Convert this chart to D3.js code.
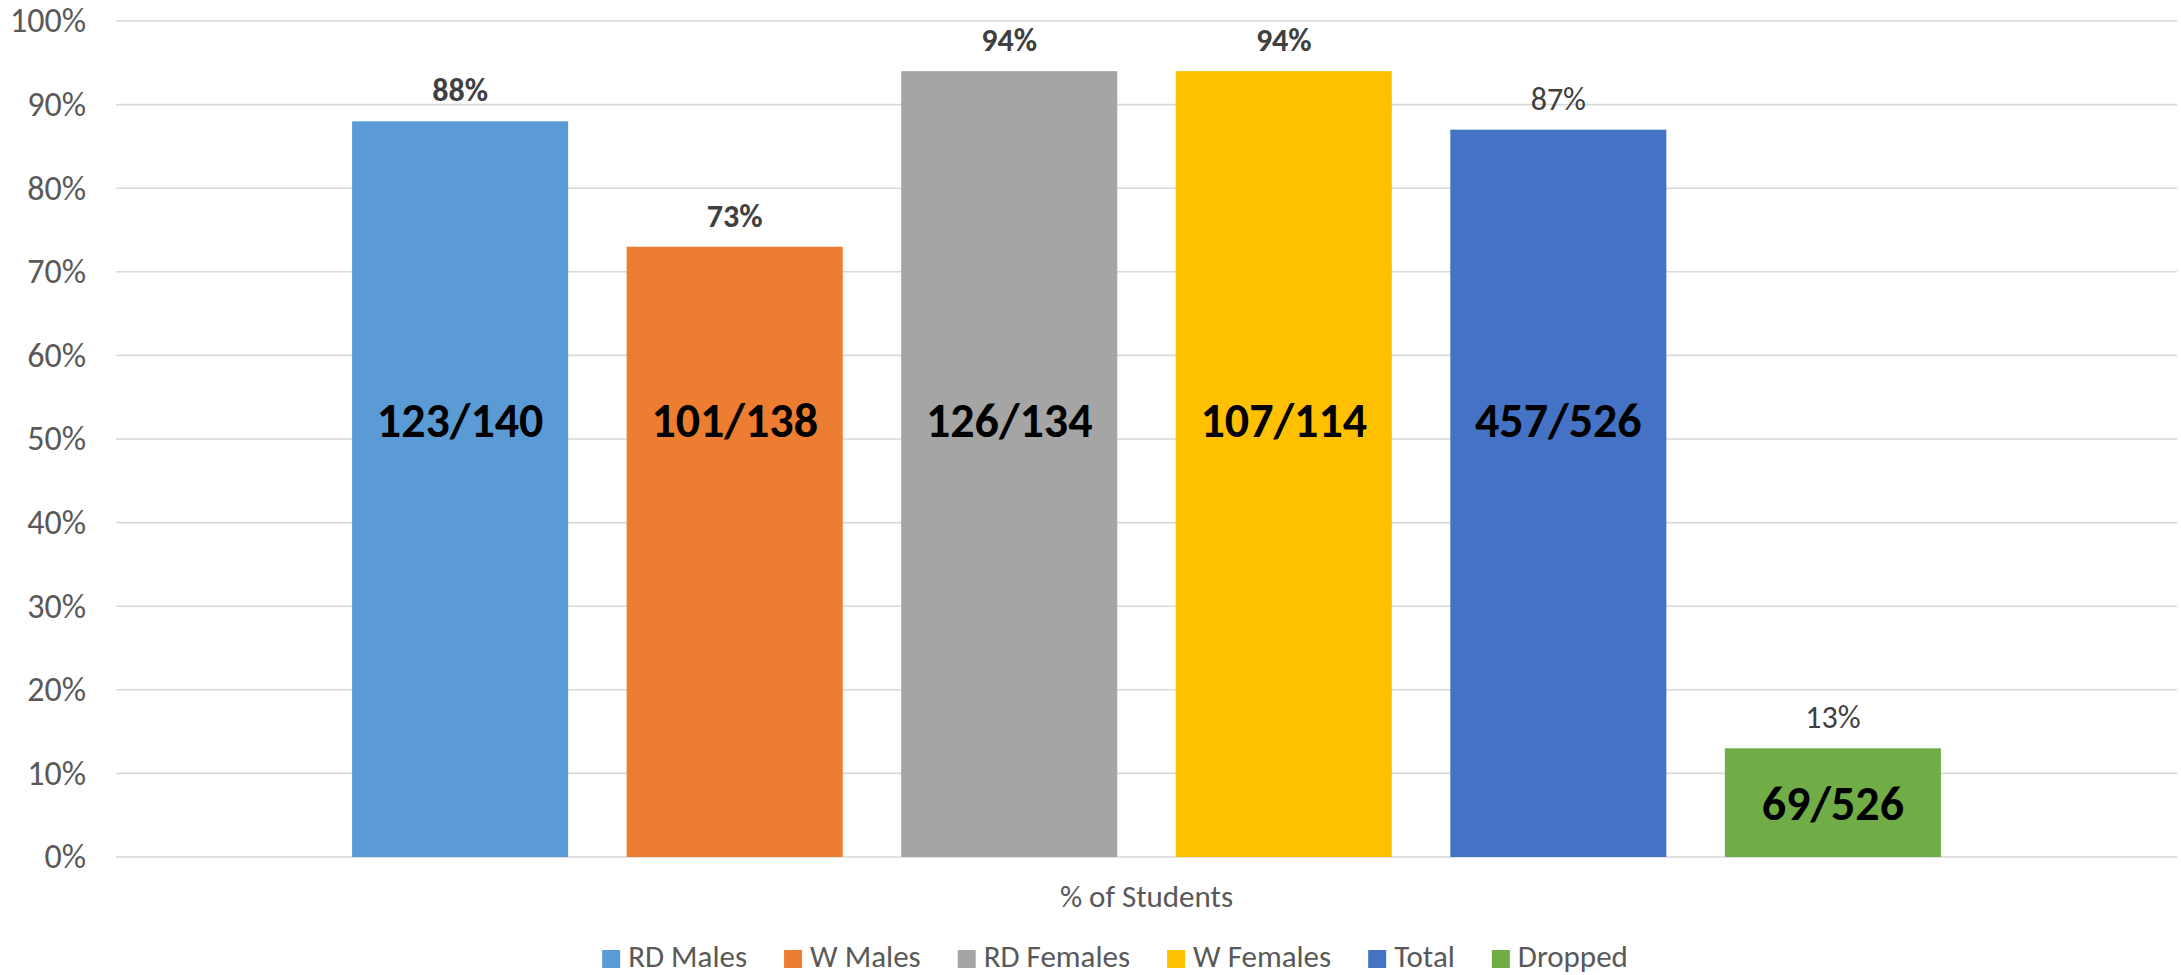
<!DOCTYPE html>
<html>
<head>
<meta charset="utf-8">
<script src="https://cdn.jsdelivr.net/npm/d3@7"></script>
<style>
  html, body { margin: 0; padding: 0; background: #ffffff; }
  svg { display: block; font-family: Carlito, Calibri, Lato, "Open Sans", sans-serif; }
</style>
</head>
<body>
<svg id="chart" width="2181" height="975"></svg>
<script>
// ---- data ----
const category = "% of Students";
const seriesNames = ["RD Males", "W Males", "RD Females", "W Females", "Total", "Dropped"];
const seriesValues = [0.88, 0.73, 0.94, 0.94, 0.87, 0.13];
const countLabels = ["123/140", "101/138", "126/134", "107/114", "457/526", "69/526"];
const valueLabels = ["88%", "73%", "94%", "94%", "87%", "13%"];
const yTicks = [0, 0.1, 0.2, 0.3, 0.4, 0.5, 0.6, 0.7, 0.8, 0.9, 1.0];

// ---- styles ----
const colors = ["#5B9BD5", "#ED7D31", "#A5A5A5", "#FFC000", "#4472C4", "#70AD47"];
const boldValueLabel = new Set(["RD Males", "W Males", "RD Females", "W Females"]);
const fontStack = 'Carlito, Calibri, Lato, "Open Sans", sans-serif';

const plot = { left: 116, right: 2177, top: 21, bottom: 857 };
const svg = d3.select("#chart");

const y = d3.scaleLinear().domain([0, 1]).range([plot.bottom, plot.top]);
const x = d3.scaleBand()
  .domain(seriesNames)
  .range([plot.left, plot.right])
  .paddingInner(0.213)
  .paddingOuter(0.86);

const data = seriesNames.map((s, i) => ({
  name: s, value: seriesValues[i], count: countLabels[i], label: valueLabels[i], color: colors[i]
}));

// gridlines
svg.append("g").selectAll("line")
  .data(yTicks)
  .join("line")
  .attr("x1", plot.left).attr("x2", plot.right)
  .attr("y1", d => y(d)).attr("y2", d => y(d))
  .attr("stroke", "#D9D9D9").attr("stroke-width", 1.6);

// y axis labels
const yAxis = d3.axisLeft(y).tickValues(yTicks).tickFormat(d3.format(".0%")).tickSize(0).tickPadding(30);
const gAxis = svg.append("g").attr("transform", `translate(${plot.left},0)`).call(yAxis);
gAxis.attr("font-family", fontStack).attr("font-size", 34);
gAxis.select(".domain").remove();
gAxis.selectAll("text").attr("fill", "#595959");

// bars
svg.append("g").selectAll("rect")
  .data(data)
  .join("rect")
  .attr("x", d => x(d.name))
  .attr("y", d => y(d.value))
  .attr("width", x.bandwidth())
  .attr("height", d => y(0) - y(d.value))
  .attr("fill", d => d.color);

// value labels above bars
svg.append("g").selectAll("text")
  .data(data)
  .join("text")
  .attr("x", d => x(d.name) + x.bandwidth() / 2)
  .attr("y", d => y(d.value) - 20)
  .attr("text-anchor", "middle")
  .attr("font-size", 32)
  .attr("font-weight", d => boldValueLabel.has(d.name) ? "bold" : "normal")
  .attr("fill", "#404040")
  .text(d => d.label);

// count labels inside bars
const innerLevel = 0.5227;
svg.append("g").selectAll("text")
  .data(data)
  .join("text")
  .attr("x", d => x(d.name) + x.bandwidth() / 2)
  .attr("y", d => d.value > innerLevel ? y(innerLevel) : (y(d.value) + y(0)) / 2)
  .attr("dy", "0.36em")
  .attr("text-anchor", "middle")
  .attr("font-size", 48)
  .attr("font-weight", "bold")
  .attr("fill", "#000000")
  .text(d => d.count);

// category axis title
svg.append("text")
  .attr("x", (plot.left + plot.right) / 2)
  .attr("y", 907)
  .attr("text-anchor", "middle")
  .attr("font-size", 31)
  .attr("fill", "#595959")
  .text(category);

// legend
const legend = svg.append("g");
const items = legend.selectAll("g").data(data).join("g");
items.append("rect").attr("width", 18).attr("height", 18).attr("y", 950).attr("fill", d => d.color);
items.append("text").attr("x", 26).attr("y", 967).attr("font-size", 31).attr("fill", "#595959").text(d => d.name);
const widths = [];
items.each(function () {
  const tw = d3.select(this).select("text").node().getComputedTextLength();
  widths.push(26 + tw);
});
const gap = 37;
const total = d3.sum(widths) + gap * (widths.length - 1);
let start = 1115 - total / 2;
items.attr("transform", (d, i) => {
  const t = `translate(${start},0)`;
  start += widths[i] + gap;
  return t;
});
</script>
</body>
</html>
